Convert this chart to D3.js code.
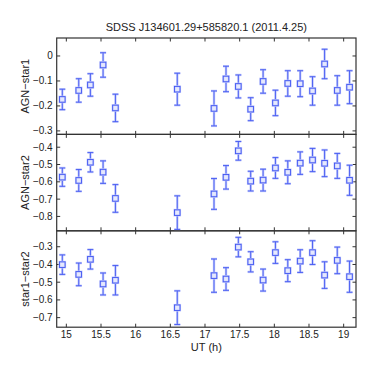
<!DOCTYPE html>
<html>
<head>
<meta charset="utf-8">
<script src="https://cdn.jsdelivr.net/npm/d3@7"></script>
<style>
  body { margin: 0; background: #fff; }
  text { font-family: "Liberation Sans", Arial, sans-serif; fill: #222; }
</style>
</head>
<body>
<div id="chart"></div>
<script>
// observation times (UT hours)
var ut = [14.942, 15.179, 15.347, 15.530, 15.708, 16.600, 17.130, 17.303, 17.481,
  17.659, 17.838, 18.016, 18.194, 18.373, 18.551, 18.725, 18.908, 19.085]

// differential magnitudes and their errors
var agnStar1 = [-0.174, -0.138, -0.116, -0.036, -0.208, -0.133, -0.210, -0.092, -0.122,
  -0.213, -0.102, -0.188, -0.110, -0.111, -0.140, -0.032, -0.138, -0.125]
var agnStar1Err = [0.041, 0.047, 0.045, 0.049, 0.055, 0.064, 0.070, 0.051, 0.046,
  0.046, 0.047, 0.051, 0.051, 0.052, 0.057, 0.059, 0.059, 0.066]

var agnStar2 = [-0.573, -0.592, -0.487, -0.544, -0.696, -0.778, -0.670, -0.574, -0.421,
  -0.596, -0.590, -0.520, -0.545, -0.492, -0.474, -0.493, -0.508, -0.591]
var agnStar2Err = [0.053, 0.063, 0.056, 0.065, 0.080, 0.097, 0.089, 0.068, 0.054,
  0.057, 0.063, 0.060, 0.066, 0.065, 0.067, 0.077, 0.072, 0.087]

var star1Star2 = [-0.401, -0.456, -0.371, -0.510, -0.489, -0.644, -0.463, -0.482, -0.302,
  -0.385, -0.488, -0.333, -0.435, -0.381, -0.333, -0.460, -0.377, -0.469]
var star1Star2Err = [0.055, 0.064, 0.055, 0.062, 0.083, 0.095, 0.094, 0.064, 0.055,
  0.057, 0.062, 0.061, 0.062, 0.064, 0.067, 0.075, 0.075, 0.088]

var xTicks = [15, 15.5, 16, 16.5, 17, 17.5, 18, 18.5, 19]

var panels = [
  {label: "AGN\u2212star1", y: agnStar1, err: agnStar1Err, domain: [-0.314, 0.072], ticks: [0, -0.1, -0.2, -0.3]},
  {label: "AGN\u2212star2", y: agnStar2, err: agnStar2Err, domain: [-0.883, -0.326], ticks: [-0.4, -0.5, -0.6, -0.7, -0.8]},
  {label: "star1\u2212star2", y: star1Star2, err: star1Star2Err, domain: [-0.754, -0.21], ticks: [-0.3, -0.4, -0.5, -0.6, -0.7]}
]

var w = 374, h = 386
var padL = 56.7, padR = 356, padT = 38, panelH = 96.4

var svg = d3.select("#chart").append("svg")
  .attr("width", w)
  .attr("height", h)

var x = d3.scaleLinear().domain([14.861, 19.178]).range([padL, padR])

var fmt = function(d) { return d === 0 ? "0" : d3.format(".1f")(d) }
var blue = "#4257f2", halo = "#c3cafb"

// title
svg.append("text")
  .attr("x", (padL + padR) / 2)
  .attr("y", 31)
  .attr("text-anchor", "middle")
  .style("font-size", "11px")
  .text("SDSS J134601.29+585820.1 (2011.4.25)")

panels.forEach(function(p, i) {
  var y0 = padT + i * panelH, y1 = y0 + panelH
  var y = d3.scaleLinear().domain(p.domain).range([y1, y0])
  var g = svg.append("g")

  // inward ticks, all four sides
  g.selectAll(null).data(xTicks).enter().append("line")
    .attr("x1", d => x(d)).attr("x2", d => x(d))
    .attr("y1", y1).attr("y2", y1 - 3.5)
    .attr("stroke", "#333")
  g.selectAll(null).data(xTicks).enter().append("line")
    .attr("x1", d => x(d)).attr("x2", d => x(d))
    .attr("y1", y0).attr("y2", y0 + 3.5)
    .attr("stroke", "#333")
  g.selectAll(null).data(p.ticks).enter().append("line")
    .attr("x1", padL).attr("x2", padL + 3.5)
    .attr("y1", d => y(d)).attr("y2", d => y(d))
    .attr("stroke", "#333")
  g.selectAll(null).data(p.ticks).enter().append("line")
    .attr("x1", padR).attr("x2", padR - 3.5)
    .attr("y1", d => y(d)).attr("y2", d => y(d))
    .attr("stroke", "#333")

  g.selectAll(null).data(p.ticks).enter().append("text")
    .attr("x", padL - 4)
    .attr("y", d => y(d) + 3.5)
    .attr("text-anchor", "end")
    .style("font-size", "10px")
    .text(fmt)

  // frame
  g.append("rect")
    .attr("x", padL).attr("y", y0)
    .attr("width", padR - padL).attr("height", panelH)
    .attr("fill", "none").attr("stroke", "#333").attr("stroke-width", 1.2)

  // y label
  g.append("text")
    .attr("transform", "translate(29," + (y0 + y1) / 2 + ") rotate(-90)")
    .attr("text-anchor", "middle")
    .style("font-size", "11px")
    .text(p.label)

  // error bars
  var pts = ut.map((t, k) => ({t: t, v: p.y[k], e: p.err[k]}))
  ;[{c: halo, sw: 2.4}, {c: blue, sw: 0.9}].forEach(function(s) {
    var eb = g.selectAll(null).data(pts).enter().append("g")
      .attr("stroke", s.c).attr("stroke-width", s.sw)
    eb.append("line")
      .attr("x1", d => x(d.t)).attr("x2", d => x(d.t))
      .attr("y1", d => y(d.v + d.e)).attr("y2", d => y(d.v - d.e))
    eb.append("line")
      .attr("x1", d => x(d.t) - 3).attr("x2", d => x(d.t) + 3)
      .attr("y1", d => y(d.v + d.e)).attr("y2", d => y(d.v + d.e))
    eb.append("line")
      .attr("x1", d => x(d.t) - 3).attr("x2", d => x(d.t) + 3)
      .attr("y1", d => y(d.v - d.e)).attr("y2", d => y(d.v - d.e))
  })

  // square markers
  g.selectAll(null).data(pts).enter().append("rect")
    .attr("x", d => x(d.t) - 2.8).attr("y", d => y(d.v) - 2.8)
    .attr("width", 5.6).attr("height", 5.6)
    .attr("fill", "#e6e9fd").attr("stroke", halo).attr("stroke-width", 2)
  g.selectAll(null).data(pts).enter().append("rect")
    .attr("x", d => x(d.t) - 2.8).attr("y", d => y(d.v) - 2.8)
    .attr("width", 5.6).attr("height", 5.6)
    .attr("fill", "none").attr("stroke", blue).attr("stroke-width", 0.9)
})

// x tick labels on bottom panel
var yb = padT + 3 * panelH
svg.selectAll(null).data(xTicks).enter().append("text")
  .attr("x", d => x(d))
  .attr("y", yb + 11)
  .attr("text-anchor", "middle")
  .style("font-size", "10px")
  .text(d => d)

svg.append("text")
  .attr("x", (padL + padR) / 2)
  .attr("y", yb + 24)
  .attr("text-anchor", "middle")
  .style("font-size", "11px")
  .text("UT (h)")
</script>
</body>
</html>
